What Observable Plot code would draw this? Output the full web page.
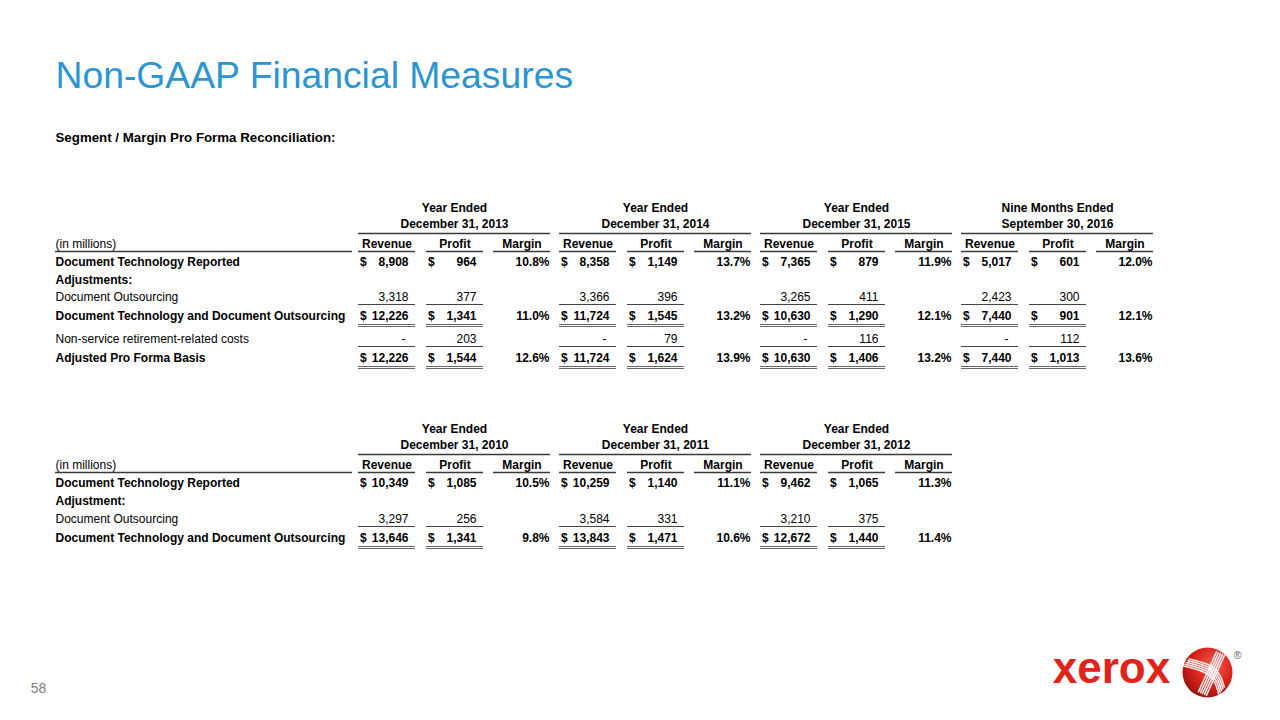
<!DOCTYPE html>
<html>
<head>
<meta charset="utf-8">
<script src="https://cdn.jsdelivr.net/npm/d3@7"></script>
<script src="https://cdn.jsdelivr.net/npm/@observablehq/plot@0.6"></script>
<style>
  html, body { margin: 0; padding: 0; background: #ffffff; }
  #chart svg { display: block; }
</style>
</head>
<body>
<div id="chart"></div>
<script>
// ---------------- DATA ----------------
const title = "Non-GAAP Financial Measures";
const subtitle = "Segment / Margin Pro Forma Reconciliation:";
const unitsLabel = "(in millions)";
const columnHeaders = ["Revenue", "Profit", "Margin"];
const pageNumber = "58";
const logoWord = "xerox";

// Upper table
const topPeriodLine1 = ["Year Ended", "Year Ended", "Year Ended", "Nine Months Ended"];
const topPeriodLine2 = ["December 31, 2013", "December 31, 2014", "December 31, 2015", "September 30, 2016"];
const topRowLabels = [
  "Document Technology Reported",
  "Adjustments:",
  "Document Outsourcing",
  "Document Technology and Document Outsourcing",
  "Non-service retirement-related costs",
  "Adjusted Pro Forma Basis"
];
const topReportedRevenue = [8908, 8358, 7365, 5017];
const topReportedProfit = [964, 1149, 879, 601];
const topReportedMargin = [10.8, 13.7, 11.9, 12.0];
const topOutsourcingRevenue = [3318, 3366, 3265, 2423];
const topOutsourcingProfit = [377, 396, 411, 300];
const topCombinedRevenue = [12226, 11724, 10630, 7440];
const topCombinedProfit = [1341, 1545, 1290, 901];
const topCombinedMargin = [11.0, 13.2, 12.1, 12.1];
const topRetirementRevenue = [null, null, null, null];
const topRetirementProfit = [203, 79, 116, 112];
const topAdjustedRevenue = [12226, 11724, 10630, 7440];
const topAdjustedProfit = [1544, 1624, 1406, 1013];
const topAdjustedMargin = [12.6, 13.9, 13.2, 13.6];

// Lower table
const bottomPeriodLine1 = ["Year Ended", "Year Ended", "Year Ended"];
const bottomPeriodLine2 = ["December 31, 2010", "December 31, 2011", "December 31, 2012"];
const bottomRowLabels = [
  "Document Technology Reported",
  "Adjustment:",
  "Document Outsourcing",
  "Document Technology and Document Outsourcing"
];
const bottomReportedRevenue = [10349, 10259, 9462];
const bottomReportedProfit = [1085, 1140, 1065];
const bottomReportedMargin = [10.5, 11.1, 11.3];
const bottomOutsourcingRevenue = [3297, 3584, 3210];
const bottomOutsourcingProfit = [256, 331, 375];
const bottomCombinedRevenue = [13646, 13843, 12672];
const bottomCombinedProfit = [1341, 1471, 1440];
const bottomCombinedMargin = [9.8, 10.6, 11.4];

// ---------------- LAYOUT (page units) ----------------
const W = 1280, H = 720;
const FONT = "'Liberation Sans', Arial, Helvetica, sans-serif";
const layout = {
  labelX: 55, labelRuleEnd: 352,
  groupX0: 358, groupPitch: 201,
  colOffsets: [0, 68, 135], colWidth: 57,
  headLine1: 0, headLine2: 16, groupRule: 25, colHead: 36, colRule: 43
};
const topTableY = 208, bottomTableY = 429;
const topRowOffsets = [54, 72, 89, 108, 131, 150];
const bottomRowOffsets = [54, 72, 90, 109];

// ---------------- TABLE MODEL ----------------
const topRows = [
  {label: topRowLabels[0], bold: true, rev: topReportedRevenue, prof: topReportedProfit, margin: topReportedMargin, dollar: true, rule: null},
  {label: topRowLabels[1], bold: true},
  {label: topRowLabels[2], bold: false, rev: topOutsourcingRevenue, prof: topOutsourcingProfit, dollar: false, rule: "single"},
  {label: topRowLabels[3], bold: true, rev: topCombinedRevenue, prof: topCombinedProfit, margin: topCombinedMargin, dollar: true, rule: "double"},
  {label: topRowLabels[4], bold: false, rev: topRetirementRevenue, prof: topRetirementProfit, dollar: false, rule: "single"},
  {label: topRowLabels[5], bold: true, rev: topAdjustedRevenue, prof: topAdjustedProfit, margin: topAdjustedMargin, dollar: true, rule: "double"}
];
const bottomRows = [
  {label: bottomRowLabels[0], bold: true, rev: bottomReportedRevenue, prof: bottomReportedProfit, margin: bottomReportedMargin, dollar: true, rule: null},
  {label: bottomRowLabels[1], bold: true},
  {label: bottomRowLabels[2], bold: false, rev: bottomOutsourcingRevenue, prof: bottomOutsourcingProfit, dollar: false, rule: "single"},
  {label: bottomRowLabels[3], bold: true, rev: bottomCombinedRevenue, prof: bottomCombinedProfit, margin: bottomCombinedMargin, dollar: true, rule: "double"}
];

const fmt = d3.format(",");
const texts = [];   // {x, y, text, bold, anchor}
const rules = [];   // {x1, x2, y, kind}

function buildTable(top, line1, line2, rows, offsets) {
  const n = line1.length;
  texts.push({x: layout.labelX, y: top + layout.colHead, text: unitsLabel, bold: false, anchor: "start"});
  rules.push({x1: layout.labelX, x2: layout.labelRuleEnd, y: top + layout.colRule, kind: "head"});
  for (let g = 0; g < n; g++) {
    const gx = layout.groupX0 + g * layout.groupPitch;
    const cols = layout.colOffsets.map(o => [gx + o, gx + o + layout.colWidth]);
    const gEnd = cols[2][1];
    texts.push({x: (gx + gEnd) / 2, y: top + layout.headLine1, text: line1[g], bold: true, anchor: "middle"});
    texts.push({x: (gx + gEnd) / 2, y: top + layout.headLine2, text: line2[g], bold: true, anchor: "middle"});
    rules.push({x1: gx, x2: gEnd, y: top + layout.groupRule, kind: "head"});
    cols.forEach(([a, b], i) => {
      texts.push({x: (a + b) / 2, y: top + layout.colHead, text: columnHeaders[i], bold: true, anchor: "middle"});
      rules.push({x1: a, x2: b, y: top + layout.colRule, kind: "head"});
    });
    rows.forEach((r, ri) => {
      const y = top + offsets[ri];
      if (!r.rev) return;
      [r.rev, r.prof].forEach((vals, ci) => {
        const [a, b] = cols[ci];
        const v = vals[g];
        if (v == null) {
          texts.push({x: b - 10, y, text: "-", bold: r.bold, anchor: "end"});
        } else {
          if (r.dollar) texts.push({x: a + 1.5, y, text: "$", bold: r.bold, anchor: "start"});
          texts.push({x: b - 7, y, text: fmt(v), bold: r.bold, anchor: "end"});
        }
        if (r.rule === "single") rules.push({x1: a, x2: b, y: y + 7, kind: "single"});
        if (r.rule === "double") {
          rules.push({x1: a, x2: b, y: y + 8, kind: "double"});
          rules.push({x1: a, x2: b, y: y + 10, kind: "double"});
        }
      });
      if (r.margin) {
        texts.push({x: cols[2][1] - 1, y, text: r.margin[g].toFixed(1) + "%", bold: r.bold, anchor: "end"});
      }
    });
  }
  rows.forEach((r, ri) => {
    texts.push({x: layout.labelX, y: top + offsets[ri], text: r.label, bold: r.bold, anchor: "start"});
  });
}
buildTable(topTableY, topPeriodLine1, topPeriodLine2, topRows, topRowOffsets);
buildTable(bottomTableY, bottomPeriodLine1, bottomPeriodLine2, bottomRows, bottomRowOffsets);

// ---------------- LOGO (decoration) ----------------
const logo = {cx: 1207, cy: 672, r: 25, wordX: 1111, wordY: 668};
const bandBases = [
  [[-21, -10], [4, -1], [14, 18]],
  [[13, -19], [5, -1], [-5, 21]]
];
const strands = [];
bandBases.forEach((pts, bi) => {
  const [p0, , p2] = pts;
  const dx = p2[0] - p0[0], dy = p2[1] - p0[1];
  const len = Math.hypot(dx, dy);
  const nx = -dy / len, ny = dx / len;
  for (let k = -2; k <= 2; k++) {
    pts.forEach(([px, py], j) => strands.push({
      id: bi * 10 + k, x: logo.cx + px + nx * k * 2.2, y: logo.cy + py + ny * k * 2.2, j
    }));
  }
});

// ---------------- PLOT ----------------
const textMarks = [];
for (const bold of [true, false]) {
  for (const anchor of ["start", "middle", "end"]) {
    const sub = texts.filter(t => t.bold === bold && t.anchor === anchor);
    if (!sub.length) continue;
    textMarks.push(Plot.text(sub, {
      x: "x", y: "y", text: "text", textAnchor: anchor,
      fontSize: 12, fontWeight: bold ? "bold" : "normal", fontFamily: FONT, fill: "#000"
    }));
  }
}

const chart = Plot.plot({
  width: W, height: H,
  margin: 0,
  x: {type: "linear", domain: [0, W], range: [0, W], axis: null},
  y: {type: "linear", domain: [0, H], range: [0, H], axis: null},
  style: {fontFamily: FONT, background: "#fff"},
  marks: [
    Plot.text([title], {x: () => 55, y: () => 87, text: d => d, textAnchor: "start", lineAnchor: "bottom",
      fontSize: 37.3, fontFamily: FONT, fill: "#2d95d1"}),
    Plot.text([subtitle], {x: () => 55, y: () => 137, text: d => d, textAnchor: "start",
      fontSize: 13.3, fontWeight: "bold", fontFamily: FONT, fill: "#000"}),
    Plot.ruleY(rules.filter(r => r.kind === "head"), {y: "y", x1: "x1", x2: "x2", stroke: "#3a3a3a", strokeWidth: 1.3}),
    Plot.ruleY(rules.filter(r => r.kind === "single"), {y: "y", x1: "x1", x2: "x2", stroke: "#444", strokeWidth: 1}),
    Plot.ruleY(rules.filter(r => r.kind === "double"), {y: "y", x1: "x1", x2: "x2", stroke: "#666", strokeWidth: 1}),
    ...textMarks,
    Plot.text([pageNumber], {x: () => 38, y: () => 688, text: d => d, textAnchor: "middle",
      fontSize: 14, fontFamily: FONT, fill: "#808080"}),
    Plot.text([logoWord], {x: () => logo.wordX, y: () => logo.wordY, text: d => d, textAnchor: "middle",
      fontSize: 44, fontWeight: "bold", fontFamily: FONT, fill: "#e2231a"}),
    Plot.dot([logo], {x: "cx", y: "cy", r: logo.r, fill: "url(#xeroxSphere)", stroke: "none"}),
    Plot.line(strands, {x: "x", y: "y", z: "id", curve: "natural", stroke: "#ffffff", strokeWidth: 1.5, strokeOpacity: 0.95}),
    Plot.text(["®"], {x: () => logo.cx + 30, y: () => logo.cy - 17, text: d => d, fontSize: 11, fontFamily: FONT, fill: "#666"})
  ]
});

const ns = "http://www.w3.org/2000/svg";
const defs = document.createElementNS(ns, "defs");
defs.innerHTML = `<radialGradient id="xeroxSphere" cx="0.62" cy="0.35" r="0.75">
  <stop offset="0" stop-color="#f25a4e"/>
  <stop offset="0.55" stop-color="#d8221a"/>
  <stop offset="1" stop-color="#8e0f0b"/>
</radialGradient>`;
chart.insertBefore(defs, chart.firstChild);

document.getElementById("chart").appendChild(chart);
</script>
</body>
</html>
